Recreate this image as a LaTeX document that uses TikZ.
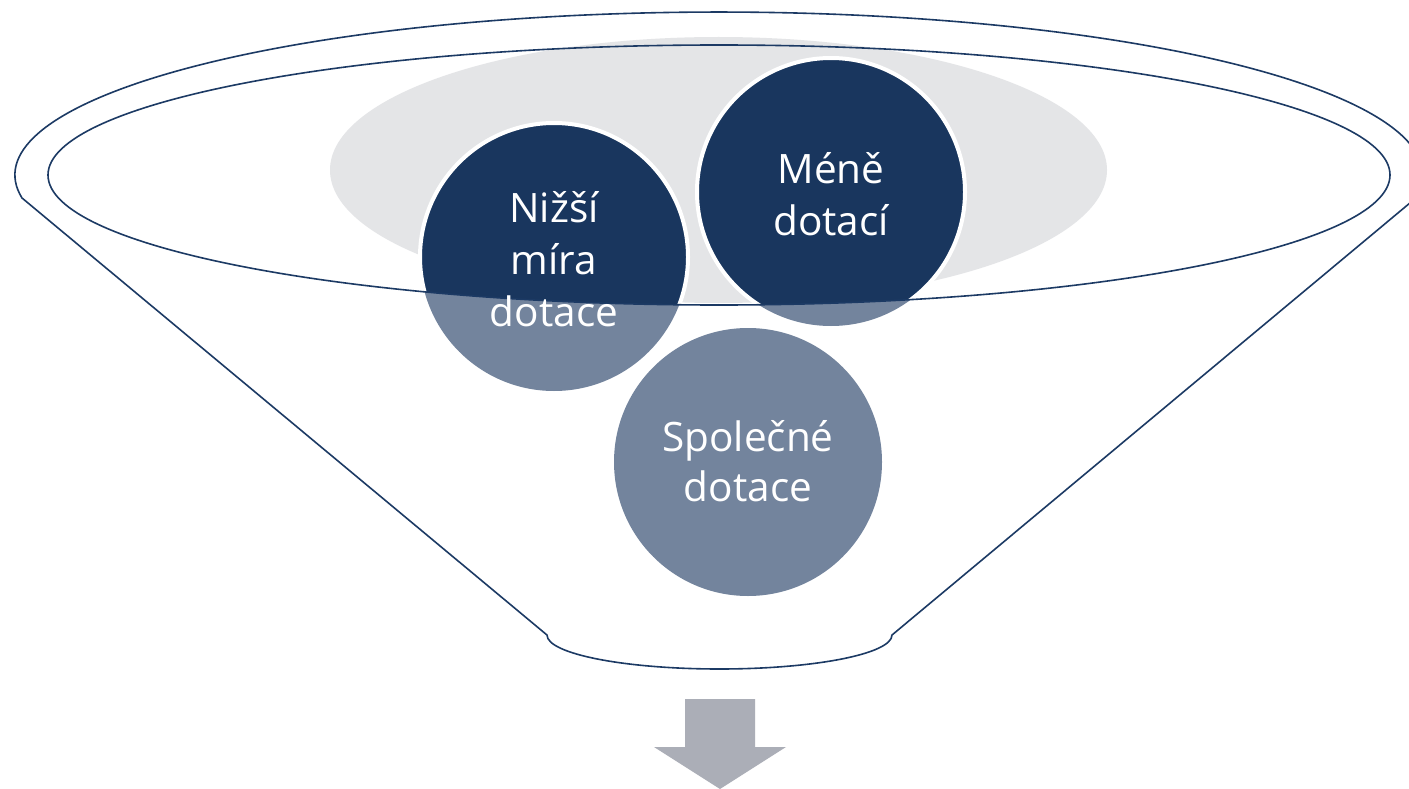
\documentclass[tikz,border=0pt]{standalone}
\usepackage{fontspec}
\setmainfont{Open Sans}
\definecolor{navy}{HTML}{19365E}
\definecolor{lightnavy}{HTML}{73849D}
\definecolor{rimgrey}{HTML}{E4E5E7}
\definecolor{edge}{HTML}{1C3A64}
\definecolor{arrowgrey}{HTML}{ABAEB7}
\begin{document}
\begin{tikzpicture}[x=1pt,y=-1pt,
  bubble/.style={circle,inner sep=0pt,minimum size=268pt},
  lbl/.style={text=white,align=center,inner sep=0pt,font=\fontsize{40.5}{52}\selectfont},
  funnelline/.style={draw=edge,line width=1.6pt,line join=round}]
\clip (0,0) rectangle (1409,789);
\fill[white] (0,0) rectangle (1409,789);
% grey ellipse behind circles
\fill[rimgrey] (718.5,170) ellipse [x radius=388.5pt, y radius=133pt];
% circles (light parts, below the rim)
\node[bubble,fill=lightnavy] (c1) at (554,257) {};
\node[bubble,fill=lightnavy] (c2) at (831,192) {};
\node[bubble,fill=lightnavy] (c3) at (748,462) {};
% dark parts inside the rim
\begin{scope}
  \clip (719,175) ellipse [x radius=671pt, y radius=130pt];
  \fill[navy,draw=white,line width=4pt] (c1.center) circle [radius=134pt];
  \fill[navy,draw=white,line width=4pt] (c2.center) circle [radius=134pt];
\end{scope}
% inner rim
\draw[funnelline] (719,175) ellipse [x radius=671pt, y radius=130pt];
% funnel outline
\draw[funnelline] (22,198)
  arc[start angle=188.1, end angle=-8.1, x radius=704pt, y radius=163pt]
  -- (892,635)
  arc[start angle=0, end angle=-180, x radius=172.5pt, y radius=34pt]
  -- cycle;
% labels
\node[lbl] (t1) at (554,259) {Nižší\\míra\\dotace};
\node[lbl] (t2) at (831,194) {Méně\\dotací};
\node[lbl,font=\fontsize{40.5}{50}\selectfont] (t3) at (748,461) {Společné\\dotace};
% arrow
\fill[arrowgrey] (685,699) -- (755,699) -- (755,747) -- (786,747) -- (720,789)
  -- (654,747) -- (685,747) -- cycle;
\end{tikzpicture}
\end{document}
